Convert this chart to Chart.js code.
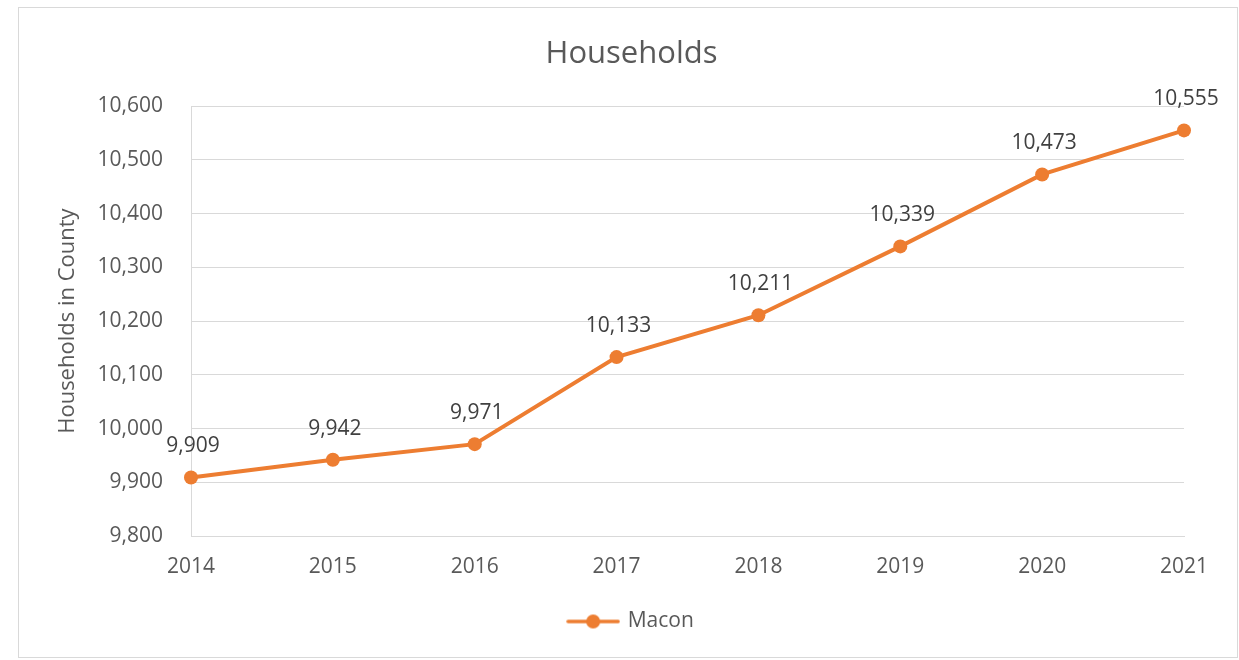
<!DOCTYPE html>
<html>
<head>
<meta charset="utf-8">
<title>Households</title>
<script src="https://cdn.jsdelivr.net/npm/chart.js@4/dist/chart.umd.min.js"></script>
<style>
  html, body { margin: 0; padding: 0; background: #ffffff; }
  #wrap { width: 1239px; height: 660px; }
</style>
</head>
<body>
<div id="wrap"><canvas id="chart" width="1239" height="660"></canvas></div>
<script>
// Households in Macon county, by year
const years = ['2014', '2015', '2016', '2017', '2018', '2019', '2020', '2021'];
const households = [9909, 9942, 9971, 10133, 10211, 10339, 10473, 10555];
const seriesName = 'Macon';
const yMin = 9800;
const yMax = 10600;
const yStep = 100;

const ORANGE = '#ED7D31';
const TEXT = '#595959';
const LABEL = '#404040';
const GRID = '#d9d9d9';
const FONT = "'Open Sans', 'Noto Sans', sans-serif";

const fmt = v => Number(v).toLocaleString('en-US');

// Legend swatch: a short line with a dot in the middle
function makeSwatch() {
  const c = document.createElement('canvas');
  c.width = 54; c.height = 16;
  const g = c.getContext('2d');
  g.strokeStyle = ORANGE;
  g.lineWidth = 3.5;
  g.lineCap = 'round';
  g.beginPath(); g.moveTo(2, 8); g.lineTo(52, 8); g.stroke();
  g.fillStyle = ORANGE;
  g.beginPath(); g.arc(27, 8, 7, 0, Math.PI * 2); g.fill();
  return c;
}

// Light frame around the whole chart
const framePlugin = {
  id: 'frame',
  beforeDraw(chart) {
    const ctx = chart.ctx;
    ctx.save();
    ctx.fillStyle = '#ffffff';
    ctx.fillRect(0, 0, chart.width, chart.height);
    ctx.strokeStyle = GRID;
    ctx.lineWidth = 1;
    ctx.strokeRect(18.5, 7.5, 1219, 650);
    ctx.restore();
  }
};

// Value labels above each point
const valueLabels = {
  id: 'valueLabels',
  afterDatasetsDraw(chart) {
    const ctx = chart.ctx;
    ctx.save();
    ctx.font = '21px ' + FONT;
    ctx.fillStyle = LABEL;
    ctx.textAlign = 'center';
    ctx.textBaseline = 'middle';
    chart.data.datasets.forEach((ds, di) => {
      const meta = chart.getDatasetMeta(di);
      meta.data.forEach((pt, i) => {
        ctx.fillText(fmt(ds.data[i]), pt.x + 2, pt.y - 31);
      });
    });
    ctx.restore();
  }
};

new Chart(document.getElementById('chart'), {
  type: 'line',
  data: {
    labels: years,
    datasets: [{
      label: seriesName,
      data: households,
      borderColor: ORANGE,
      backgroundColor: ORANGE,
      borderWidth: 4,
      pointRadius: 7,
      pointHoverRadius: 7,
      pointBackgroundColor: ORANGE,
      pointBorderColor: ORANGE,
      pointBorderWidth: 0,
      tension: 0,
      fill: false
    }]
  },
  options: {
    responsive: false,
    animation: false,
    devicePixelRatio: 1,
    layout: { padding: { left: 79, right: 55, top: 0, bottom: 18 } },
    plugins: {
      title: {
        display: true,
        text: 'Households',
        color: TEXT,
        font: { family: FONT, size: 31, weight: 'normal', lineHeight: 1.2 },
        padding: { top: 36, bottom: 33 }
      },
      legend: {
        display: true,
        position: 'bottom',
        labels: {
          color: TEXT,
          font: { family: FONT, size: 21 },
          usePointStyle: true,
          pointStyle: makeSwatch(),
          pointStyleWidth: 48,
          padding: 10
        }
      },
      tooltip: { enabled: false }
    },
    scales: {
      x: {
        type: 'category',
        offset: false,
        grid: { display: false, drawTicks: false },
        border: { display: true, color: GRID, width: 1 },
        ticks: {
          color: TEXT,
          font: { family: FONT, size: 21 },
          padding: 18,
          maxRotation: 0,
          autoSkip: false
        },
        afterFit(scale) { scale.height = 65; }
      },
      y: {
        min: yMin,
        max: yMax,
        grid: { color: GRID, lineWidth: 1, drawTicks: false },
        border: { display: true, color: GRID, width: 1 },
        ticks: {
          stepSize: yStep,
          color: TEXT,
          font: { family: FONT, size: 21 },
          padding: 28,
          callback: v => fmt(v)
        },
        title: {
          display: true,
          text: 'Households in County',
          color: TEXT,
          font: { family: FONT, size: 22, weight: 'normal', lineHeight: 1.2 },
          padding: { top: -24.2, bottom: 0 }
        },
        afterFit(scale) { scale.width = 112; }
      }
    }
  },
  plugins: [framePlugin, valueLabels]
});
</script>
</body>
</html>
